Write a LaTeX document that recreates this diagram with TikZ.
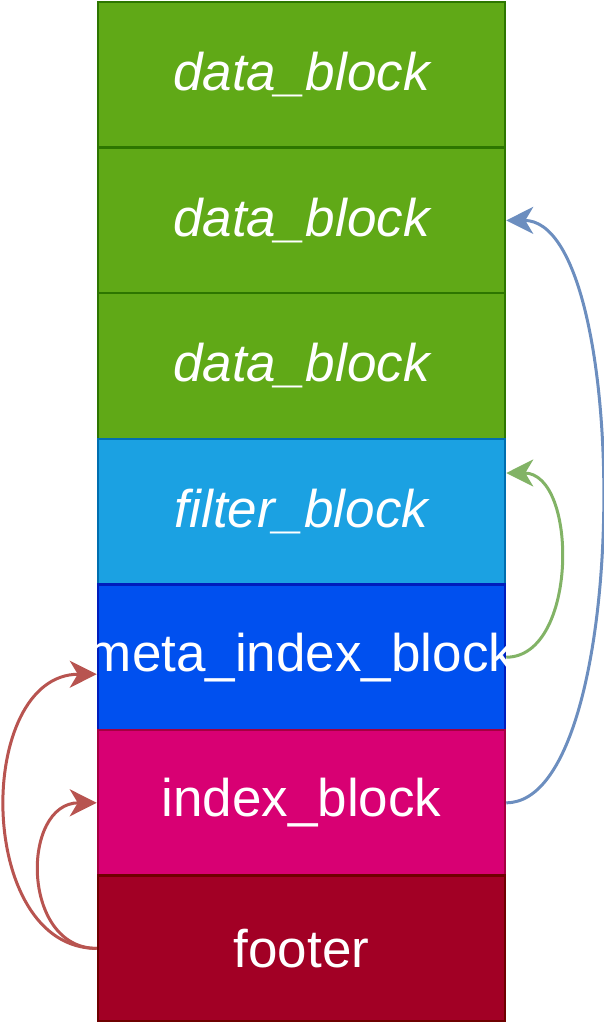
\documentclass[tikz,border=0pt]{standalone}
\usepackage{fontspec}
\setmainfont{Liberation Sans}
\usepackage{xcolor}
\usepackage{tikz}
\usetikzlibrary{arrows.meta}

\definecolor{blockgreen}{HTML}{60A917}
\definecolor{linegreen}{HTML}{2D7600}
\definecolor{blockcyan}{HTML}{1BA1E2}
\definecolor{linecyan}{HTML}{006EAF}
\definecolor{blockblue}{HTML}{0050EF}
\definecolor{lineblue}{HTML}{001DBC}
\definecolor{blockpink}{HTML}{D80073}
\definecolor{linepink}{HTML}{A50040}
\definecolor{blockred}{HTML}{A20025}
\definecolor{linered}{HTML}{6F0000}
\definecolor{arrowblue}{HTML}{6C8EBF}
\definecolor{arrowgreen}{HTML}{82B366}
\definecolor{arrowred}{HTML}{B85450}

\begin{document}
\begin{tikzpicture}[x=1pt, y=-1pt,
  sstblock/.style={draw, line width=2.5pt, minimum width=407pt, minimum height=145.6pt,
    inner sep=0pt, text=white, font=\fontsize{53}{60}\selectfont},
  link/.style={line width=3pt, -{Stealth[length=27pt, width=27pt, inset=8pt]}}]
\useasboundingbox (0,0) rectangle (603,1026);

% Data blocks on top
\node[sstblock, fill=blockgreen, draw=linegreen, font=\fontsize{53}{60}\selectfont\itshape] (data1) at (301.5,74.8) {data\_block};
\node[sstblock, fill=blockgreen, draw=linegreen, font=\fontsize{53}{60}\selectfont\itshape] (data2) at (301.5,220.4) {data\_block};
\node[sstblock, fill=blockgreen, draw=linegreen, font=\fontsize{53}{60}\selectfont\itshape] (data3) at (301.5,366.0) {data\_block};

% Filter and meta index
\node[sstblock, fill=blockcyan, draw=linecyan, font=\fontsize{53}{60}\selectfont\itshape] (filter) at (301.5,511.6) {filter\_block};
\node[sstblock, fill=blockblue, draw=lineblue] (meta) at (301.5,657.2) {\makebox[0pt][c]{meta\_index\_block}};

% Index block and footer
\node[sstblock, fill=blockpink, draw=linepink] (index) at (301.5,802.8) {index\_block};
\node[sstblock, fill=blockred, draw=linered] (footer) at (301.5,948.4) {footer};

% Pointers on the right side
\draw[link, arrowblue] (index.east) .. controls +(127,0) and +(127,0) .. (data2.east);
\draw[link, arrowgreen] (meta.east) .. controls +(72,0) and +(72,0) .. ([yshift=38.6pt]filter.east);

% Pointers from the footer
\draw[link, arrowred] (footer.west) .. controls +(-122,0) and +(-122,0) .. ([yshift=-17pt]meta.west);
\draw[link, arrowred] (footer.west) .. controls +(-76,0) and +(-76,0) .. (index.west);

\end{tikzpicture}
\end{document}
